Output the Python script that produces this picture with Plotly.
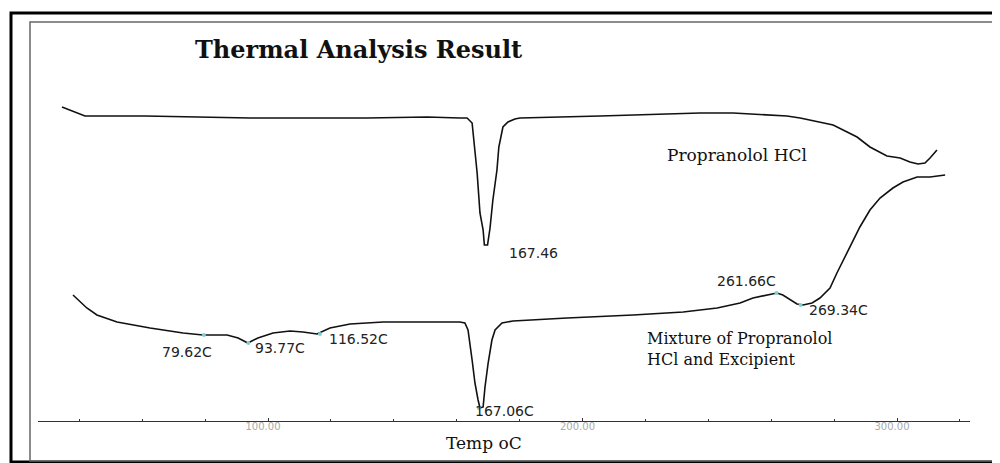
import plotly.graph_objects as go

# ---------------- data ----------------
upper_temp = [34.5, 41.8, 60.9, 78.4, 94.3, 131.5, 150.6, 161.0, 163.3, 164.9, 165.2, 165.8,
              166.5, 167.4, 168.4, 168.8, 169.8, 170.6, 171.5, 172.8, 173.4, 174.7, 176.3,
              178.5, 180.1, 205.6, 226.9, 237.4, 247.9, 254.2, 265.0, 269.2, 275.5, 279.7,
              283.5, 287.3, 291.4, 296.8, 301.0, 304.1, 306.7, 308.9, 310.5, 312.7]
upper_signal = [31.4, 30.5, 30.5, 30.4, 30.3, 30.3, 30.4, 30.3, 30.3, 29.8, 28.8, 27.3,
                24.8, 20.8, 19.1, 17.6, 17.6, 19.3, 22.1, 25.1, 27.4, 29.4, 29.9,
                30.2, 30.3, 30.5, 30.7, 30.8, 30.8, 30.7, 30.5, 30.3, 29.9, 29.6,
                29.0, 28.4, 27.4, 26.5, 26.3, 25.9, 25.7, 25.8, 26.3, 27.1]

mix_temp = [38.0, 40.2, 42.4, 45.6, 52.0, 62.5, 73.0, 79.3, 87.0, 90.5, 93.6, 96.8, 101.6,
            107.0, 111.1, 115.6, 119.7, 126.1, 136.6, 152.5, 161.0, 162.6, 163.6, 164.9,
            165.8, 166.8, 167.4, 168.4, 169.0, 170.0, 171.2, 172.2, 174.4, 177.9, 185.5,
            195.1, 216.1, 232.0, 242.8, 250.1, 254.2, 258.7, 261.8, 263.7, 266.0, 268.2,
            270.1, 273.0, 275.5, 278.7, 280.9, 284.1, 286.0, 288.2, 291.4, 294.6, 298.7,
            301.9, 306.4, 310.5, 315.3]
mix_signal = [12.6, 11.9, 11.3, 10.6, 9.9, 9.3, 8.8, 8.6, 8.6, 8.3, 7.8, 8.3, 8.8,
              9.0, 8.9, 8.7, 9.3, 9.7, 9.9, 9.9, 9.9, 9.8, 9.1, 6.1,
              3.8, 2.1, 1.3, 1.4, 3.4, 5.8, 8.1, 9.1, 9.8, 10.0, 10.1,
              10.3, 10.6, 10.9, 11.3, 11.8, 12.3, 12.6, 12.8, 12.6, 12.1, 11.7,
              11.6, 11.8, 12.3, 13.3, 14.8, 16.8, 18.1, 19.4, 21.1, 22.3, 23.3,
              23.9, 24.4, 24.4, 24.6]

peak_temps = [79.62, 93.77, 116.52, 167.06, 261.66, 269.34]
peak_signal = [8.6, 7.8, 8.7, 1.3, 12.8, 11.6]
peak_labels = ["79.62C", "93.77C", "116.52C", "167.06C", "261.66C", "269.34C"]
upper_peak_label = "167.46"

tick_values = [100, 200, 300]
tick_labels = ["100.00", "200.00", "300.00"]
minor_tick_values = [40, 60, 80, 120, 140, 160, 180, 220, 240, 260, 280, 320]

title_text = "Thermal Analysis Result"
upper_name = "Propranolol HCl"
mix_name = "Mixture of Propranolol<br>HCl and Excipient"
x_title = "Temp oC"

# ---------------- layout helpers ----------------
OFF = 8                      # page body margin of the html page
W, H = 1000 - OFF, 463 - OFF
ML, MR, MT = 38 - OFF, 30, 0
MB = H - (421 - OFF)
PW, PH = W - ML - MR, H - MT - MB


def xp(px):
    return (px - OFF - ML) / PW


def yp(py):
    return (H - MB - (py - OFF)) / PH


fig = go.Figure()
fig.add_trace(go.Scatter(x=upper_temp, y=upper_signal, mode="lines",
                         line=dict(color="#111111", width=1.6), name=upper_name,
                         showlegend=False))
fig.add_trace(go.Scatter(x=mix_temp, y=mix_signal, mode="lines",
                         line=dict(color="#111111", width=1.6), name="Mixture",
                         showlegend=False))
fig.add_trace(go.Scatter(x=peak_temps, y=peak_signal, mode="markers",
                         marker=dict(color="#7fd0d0", size=4), showlegend=False))

serif = "DejaVu Serif"
sans = "DejaVu Sans"


def label(text, px, py, font, xanchor="center", align="center"):
    return dict(text=text, x=xp(px), y=yp(py), xref="paper", yref="paper",
                xanchor=xanchor, yanchor="middle", align=align, showarrow=False, font=font)


ann = [
    label(title_text, 358, 49, dict(family=serif, size=24, color="#111", weight="bold")),
    label(upper_name, 737, 155, dict(family=serif, size=17, color="#111")),
    label(mix_name, 645, 349, dict(family=serif, size=16, color="#111"), "left", "left"),
    label(x_title, 484, 443, dict(family=serif, size=17, color="#111")),
    label(upper_peak_label, 533, 253, dict(family=sans, size=14, color="#222")),
]
label_px = [(187, 352), (280, 348), (358, 339), (505, 411), (746, 281), (838, 310)]
for t, (px, py) in zip(peak_labels, label_px):
    ann.append(label(t, px, py, dict(family=sans, size=14, color="#222")))

shapes = [
    dict(type="rect", xref="paper", yref="paper", x0=xp(11), x1=xp(997), y0=yp(462), y1=yp(13),
         line=dict(color="#000", width=3)),
    dict(type="rect", xref="paper", yref="paper", x0=xp(30), x1=xp(993), y0=yp(461), y1=yp(22),
         line=dict(color="#666", width=1.5)),
]

fig.update_layout(
    width=W, height=H,
    margin=dict(l=ML, r=MR, t=MT, b=MB, pad=0),
    paper_bgcolor="white", plot_bgcolor="white",
    annotations=ann, shapes=shapes,
    xaxis=dict(range=[26.87, 323.21], showgrid=False, zeroline=False,
               showline=True, linecolor="#333", linewidth=1,
               ticks="inside", ticklen=3, tickcolor="#333",
               tickvals=tick_values, ticktext=tick_labels,
               ticklabelshift=-5, ticklabelstandoff=-4,
               tickfont=dict(family=sans, size=10, color="#aaa"),
               minor=dict(tickvals=minor_tick_values, ticks="inside", ticklen=2,
                          tickcolor="#333", showgrid=False)),
    yaxis=dict(range=[0, 41.3], visible=False),
)

fig.write_html("out.html")
